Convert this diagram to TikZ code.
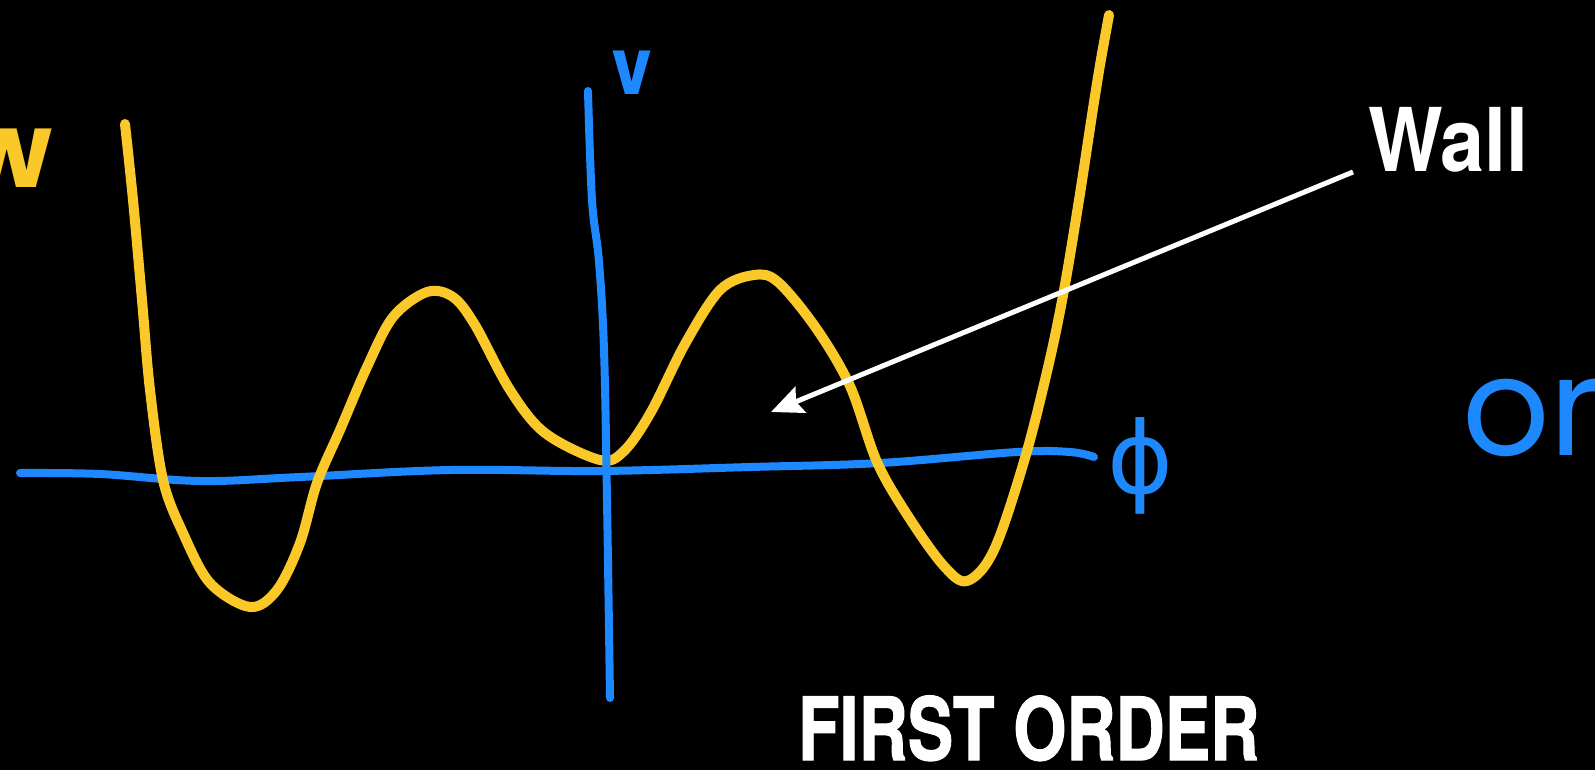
\documentclass[tikz,border=0pt]{standalone}
\usepackage{fontspec}
\setmainfont{TeX Gyre Heros}
\newfontfamily\handfont{Poppins}
\newfontfamily\greekhand{DejaVu Sans}
\newfontfamily\heavyfont{TeX Gyre Heros}[BoldFeatures={FakeBold=1.4}]
\usetikzlibrary{arrows.meta,positioning}

\definecolor{chalkyellow}{RGB}{250,200,40}
\definecolor{chalkblue}{RGB}{30,136,255}

\begin{document}
\begin{tikzpicture}[
  x=1pt, y=-1pt,
  potential/.style={chalkyellow, line width=10pt, line cap=round, line join=round},
  axisline/.style={chalkblue, line width=8pt, line cap=round, line join=round},
  handlbl/.style={inner sep=0pt, outer sep=0pt},
  lbl/.style={white, inner sep=0pt, outer sep=0pt},
  arr/.style={-{Stealth[length=32pt, width=28pt, inset=5pt]}, white, line width=5pt}
]

% background and page size
\fill[black] (0,0) rectangle (1595,770);
\useasboundingbox (0,0) rectangle (1595,770);

% horizontal axis
\draw[axisline] plot[smooth, tension=0.6] coordinates {
  (20,473) (100,474) (200,481) (300,477) (450,470) (600,471)
  (750,467) (880,463) (1017,452) (1070,452) (1094,457)};

% potential with two side minima
\draw[potential] plot[smooth, tension=0.55] coordinates {
  (125,124) (133,200) (142,300) (150,390) (163,480) (183,533) (210,583)
  (250,607) (277,590) (300,543) (317,483) (340,430) (367,367) (393,317)
  (427,292) (453,297) (475,325) (510,390) (545,433) (600,460) (624,451)
  (651,412) (685,344) (720,290) (754,275) (778,282) (816,328) (850,386)
  (877,462) (908,516) (943,565) (967,581) (994,550) (1025,458) (1049,363)
  (1064,290) (1079,200) (1092,115) (1100,65) (1109,15)};

% vertical axis
\draw[axisline] plot[smooth, tension=0.6] coordinates {
  (588,91) (592,200) (599,262) (604,350) (607,500) (610,698)};

% handwritten labels
\node[handlbl, chalkyellow, anchor=base east, font=\handfont\bfseries\fontsize{105pt}{105pt}\selectfont] (wlabel) at (52,188) {w};
\node[handlbl, chalkblue, anchor=base, font=\handfont\bfseries\fontsize{78pt}{78pt}\selectfont, xscale=0.8] (vlabel) at (632,95) {v};
\node[handlbl, chalkblue, font=\greekhand\fontsize{100pt}{100pt}\selectfont] (philabel) at (1140,466) {ϕ};
\node[handlbl, chalkblue, anchor=base west, font=\handfont\fontsize{137pt}{137pt}\selectfont] (orlabel) at (1462,455) {or};

% printed labels
\node[lbl, anchor=base west, font=\bfseries\fontsize{88pt}{88pt}\selectfont] (walllabel) at (1368,172) {\scalebox{0.9}[1]{Wall}};
\node[lbl, anchor=base west, font=\heavyfont\bfseries\fontsize{87pt}{87pt}\selectfont] (title) at (798,760) {\scalebox{0.783}[1]{FIRST ORDER}};

\coordinate (walltip) at (771,412);
\draw[arr] ([xshift=-15pt]walllabel.base west) -- (walltip);

\end{tikzpicture}
\end{document}
